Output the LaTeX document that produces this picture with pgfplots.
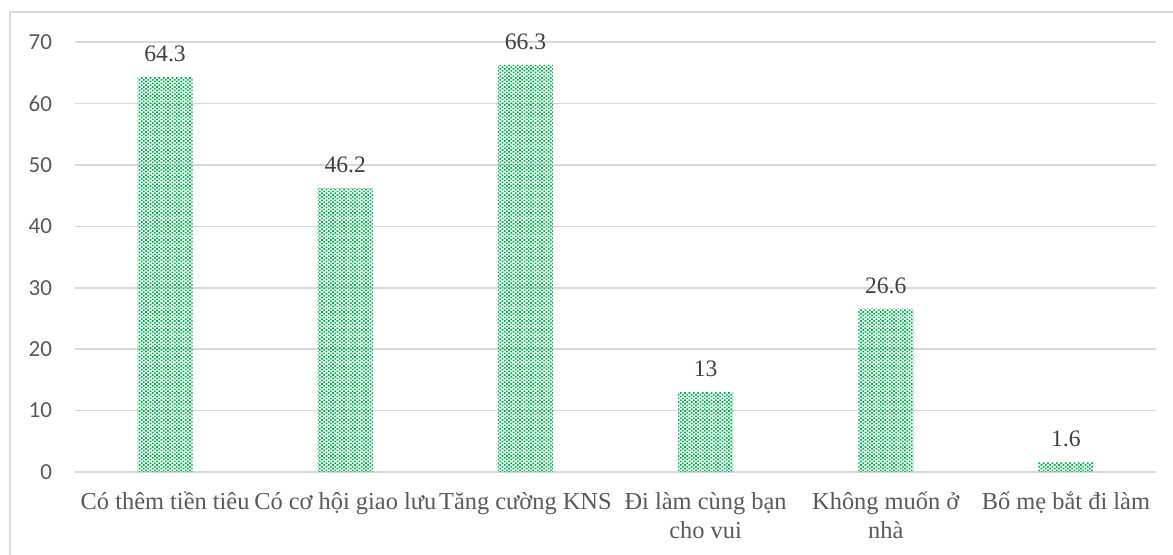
\documentclass[border=0pt]{standalone}
\usepackage{fontspec}
\setmainfont{Liberation Serif}
\newfontfamily\carlito{Carlito}
\usepackage{pgfplots}
\pgfplotsset{compat=1.18}
\usetikzlibrary{patterns}
\definecolor{bargreen}{HTML}{00B050}
\definecolor{labgray}{HTML}{595959}
\definecolor{datgray}{HTML}{404040}
\definecolor{gridgray}{HTML}{D9D9D9}

% small staggered dots, like the Excel dotted fill
\pgfdeclarepatternformonly{exceldots}{\pgfqpoint{-0.5pt}{-0.5pt}}{\pgfqpoint{3pt}{3pt}}{\pgfqpoint{2.2pt}{1.8pt}}{%
  \pgfpathrectangle{\pgfqpoint{0pt}{0pt}}{\pgfqpoint{0.85pt}{0.85pt}}%
  \pgfpathrectangle{\pgfqpoint{1.1pt}{0.9pt}}{\pgfqpoint{0.85pt}{0.85pt}}%
  \pgfusepath{fill}}

\begin{document}
\begin{tikzpicture}
\useasboundingbox (0,0) rectangle (586.5pt,277pt);
% outer chart frame (only top and left are visible)
\draw[gridgray, line width=0.8pt] (5pt,-20pt) -- (5pt,271pt) -- (620pt,271pt);

\begin{axis}[
    at={(37.5pt,41pt)}, anchor=south west,
    scale only axis,
    width=540.5pt, height=215pt,
    xmin=-0.5, xmax=5.5,
    ymin=0, ymax=70,
    ytick={0,10,...,70},
    xtick={0,...,5},
    xticklabels={Có thêm tiền tiêu, Có cơ hội giao lưu, Tăng cường KNS,
        {Đi làm cùng bạn\\cho vui}, {Không muốn ở\\nhà}, Bố mẹ bắt đi làm},
    xticklabel style={align=center, text=labgray,
        font={\fontsize{12.2}{14.5}\selectfont}, yshift=-6.5pt},
    yticklabel style={text=labgray, font={\carlito\fontsize{11.5}{14}\selectfont},
        /pgf/number format/assume math mode=true, xshift=-8pt},
    axis y line*=left,
    y axis line style={draw=none},
    axis x line*=bottom,
    x axis line style={gridgray, line width=0.8pt, -},
    major tick length=0pt,
    ymajorgrids,
    grid style={gridgray, line width=0.8pt},
    ybar, bar width=27.5pt,
    nodes near coords,
    nodes near coords style={text=datgray, font={\fontsize{11.8}{14}\selectfont},
        yshift=4pt},
    point meta=explicit symbolic,
    clip=false,
]
\addplot[draw=none, pattern=exceldots, pattern color=bargreen]
    coordinates {(0,64.3)[64.3] (1,46.2)[46.2] (2,66.3)[66.3]
                 (3,13)[13] (4,26.6)[26.6] (5,1.6)[1.6]};
\end{axis}
\end{tikzpicture}
\end{document}
